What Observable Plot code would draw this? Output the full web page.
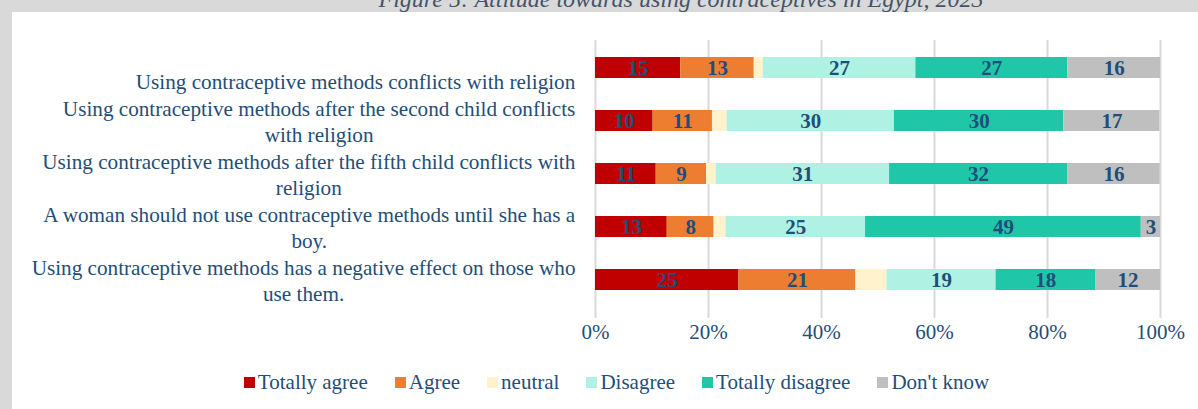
<!DOCTYPE html>
<html>
<head>
<meta charset="utf-8">
<script src="https://cdn.jsdelivr.net/npm/d3@7"></script>
<script src="https://cdn.jsdelivr.net/npm/@observablehq/plot@0.6"></script>
<style>
  html, body { margin: 0; padding: 0; }
  body { width: 1198px; height: 409px; overflow: hidden; background: #d9d9d9; position: relative; font-family: 'Liberation Serif', 'Times New Roman', serif; }
  #titlebox { position: absolute; left: 0; top: 0; width: 1362px; height: 12px; overflow: hidden; }
  #title { position: absolute; left: 0; top: -13px; width: 1362px; text-align: center; font-style: italic; font-size: 24px; line-height: 24px; color: #44546a; white-space: nowrap; }
  #panel { position: absolute; left: 12px; top: 12px; right: 0; bottom: 0; background: #fff; }
  #chart { position: absolute; left: 0; top: 0; }
  #legend { position: absolute; left: 35px; right: 0; top: 370px; display: flex; justify-content: center; align-items: center; font-size: 21px; line-height: 24px; color: #1f4e79; }
  .item { display: flex; align-items: center; margin: 0 13.5px; white-space: nowrap; }
  .sw { width: 11px; height: 11px; margin-right: 3px; display: inline-block; }
</style>
</head>
<body>
<div id="titlebox"><div id="title">Figure 5: Attitude towards using contraceptives in Egypt, 2023</div></div>
<div id="panel"><div id="chart"></div></div>
<div id="legend"></div>
<script>
const categories = [
  "Using contraceptive methods conflicts with religion",
  "Using contraceptive methods after the second child conflicts with religion",
  "Using contraceptive methods after the fifth child conflicts with religion",
  "A woman should not use contraceptive methods until she has a boy.",
  "Using contraceptive methods has a negative effect on those who use them."
];
const categoryLabels = [
  "\u00a0\nUsing contraceptive methods conflicts with religion",
  "Using contraceptive methods after the second child conflicts\nwith religion",
  "Using contraceptive methods after the fifth child conflicts with\nreligion",
  "A woman should not use contraceptive methods until she has a\nboy.",
  "Using contraceptive methods has a negative effect on those who\nuse them."
];
const responses = ["Totally agree", "Agree", "neutral", "Disagree", "Totally disagree", "Don't know"];
const colors = ["#C00000", "#ED7D31", "#FFF2CC", "#AFF2E4", "#1FC6A8", "#BFBFBF"];
const totallyAgree    = [15.1, 10.2, 10.75, 12.7, 25.4];
const agree           = [13.0, 10.5, 8.9, 8.3, 20.7];
const neutral         = [1.6, 2.6, 1.7, 2.1, 5.5];
const disagree        = [27.0, 29.6, 30.7, 24.7, 19.3];
const totallyDisagree = [26.9, 30.0, 31.5, 48.8, 17.6];
const dontKnow        = [16.4, 17.0, 16.4, 3.4, 11.5];
const xTicks = [0, 20, 40, 60, 80, 100];

const series = [totallyAgree, agree, neutral, disagree, totallyDisagree, dontKnow];
const data = [];
categories.forEach((c, i) => {
  responses.forEach((r, j) => data.push({category: c, response: r, value: series[j][i]}));
});
const labelOf = new Map(categories.map((c, i) => [c, categoryLabels[i]]));
const textColor = "#1f4e79";

const plot = Plot.plot({
  width: 1186,
  height: 330,
  marginLeft: 583,
  marginRight: 38,
  marginTop: 28,
  marginBottom: 34,
  style: {fontFamily: "'Liberation Serif', 'Times New Roman', serif", fontSize: "21px", color: textColor, background: "transparent", overflow: "visible"},
  x: {domain: [0, 100], label: null},
  y: {domain: categories, paddingInner: 0.6, paddingOuter: 0.3, label: null},
  color: {domain: responses, range: colors},
  marks: [
    Plot.gridX(xTicks, {stroke: "#d9d9d9", strokeOpacity: 1, strokeWidth: 2}),
    Plot.barX(data, Plot.stackX({x: "value", y: "category", fill: "response", order: responses})),
    Plot.text(data, Plot.stackX({
      x: "value", y: "category", z: "response", order: responses,
      text: d => d.response === "neutral" ? null : String(Math.round(d.value)),
      fill: textColor, fontWeight: "bold", fontSize: 21
    })),
    Plot.axisX(xTicks, {tickSize: 10, tickPadding: 6, stroke: "#d9d9d9", strokeWidth: 2, strokeOpacity: 1, tickFormat: d => d + "%", fontSize: 21, fill: textColor, label: null}),
    Plot.axisY({tickSize: 0, tickPadding: 20, tickFormat: d => labelOf.get(d), lineHeight: 1.2, fontSize: 21.2, fill: textColor, label: null})
  ]
});
document.getElementById("chart").appendChild(plot);

// centre the wrapped lines of each category label within its right-aligned block
plot.querySelectorAll('[aria-label="y-axis tick label"] text').forEach(t => {
  const w = t.getBBox().width;
  t.setAttribute("text-anchor", "middle");
  const spans = t.querySelectorAll("tspan");
  if (spans.length) spans.forEach(s => s.setAttribute("x", -w / 2));
  else t.setAttribute("x", -w / 2);
});

const legend = document.getElementById("legend");
responses.forEach((r, i) => {
  const it = document.createElement("div");
  it.className = "item";
  const sw = document.createElement("span");
  sw.className = "sw";
  sw.style.background = colors[i];
  const tx = document.createElement("span");
  tx.textContent = r;
  it.appendChild(sw);
  it.appendChild(tx);
  legend.appendChild(it);
});
</script>
</body>
</html>
